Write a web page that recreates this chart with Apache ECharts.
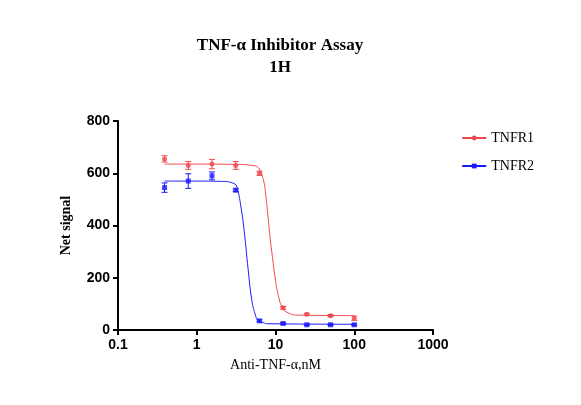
<!DOCTYPE html><html><head><meta charset="utf-8">
<script src="https://cdn.jsdelivr.net/npm/echarts@6/dist/echarts.min.js"></script></head>
<body style="margin:0"><div id="c" style="width:581px;height:405px"></div>
<script>
const conc=[0.39,0.78,1.56,3.125,6.25,12.5,25,50,100];
const tnfr1=[655,630,635,630,600,85,60,55,45];
const tnfr1Err=[12,15,18,15,8,5,4,4,8];
const tnfr2=[545,570,590,535,35,25,20,20,20];
const tnfr2Err=[18,28,15,5,4,3,3,3,3];
const fit1=[[0.39,635],[1,635],[3,634],[5,630],[6,622],[7,575],[7.5,520],[8,440],[8.5,360],[9,295],[10,190],[11,125],[12,92],[14,68],[20,57],[100,55]];
const fit2=[[0.39,570],[1,570],[2,569],[3,560],[3.3,535],[3.6,480],[4,380],[4.5,230],[5,115],[5.5,62],[6,38],[7,28],[8,24],[100,22]];
const font='Liberation Serif';
function errSeries(vals,errs,color){
 return {type:'custom',silent:true,z:1,data:conc.map((x,i)=>[x,vals[i]-errs[i],vals[i]+errs[i]]),
  renderItem:(p,api)=>{const lo=api.coord([api.value(0),api.value(1)]),hi=api.coord([api.value(0),api.value(2)]);
   const s={stroke:color,lineWidth:1};
   return {type:'group',children:[{type:'line',shape:{x1:lo[0],y1:lo[1],x2:hi[0],y2:hi[1]},style:s},
    {type:'line',shape:{x1:lo[0]-3,y1:lo[1],x2:lo[0]+3,y2:lo[1]},style:s},
    {type:'line',shape:{x1:hi[0]-3,y1:hi[1],x2:hi[0]+3,y2:hi[1]},style:s}]};}};
}
const red='#f0484f',blue='#1a1aff';
const ch=echarts.init(document.getElementById('c'));
ch.setOption({animation:false,
 title:{text:'TNF-α Inhibitor Assay\n1H',left:275,top:30,textAlign:'center',textStyle:{fontFamily:font,fontSize:17,fontWeight:'bold',lineHeight:22,color:'#000'}},
 legend:{right:42,top:126,orient:'vertical',itemGap:14,itemWidth:24,itemHeight:6,textStyle:{fontFamily:font,fontSize:14,color:'#000'},
  data:['TNFR1','TNFR2']},
 grid:{left:118,right:148,top:121,bottom:75},
 xAxis:{type:'log',logBase:10,min:0.1,max:1000,name:'Anti-TNF-α,nM',nameLocation:'middle',nameGap:28,
  nameTextStyle:{fontFamily:font,fontSize:14,color:'#000'},
  axisLine:{lineStyle:{color:'#000',width:2}},axisTick:{lineStyle:{color:'#000',width:2},length:5},
  axisLabel:{fontFamily:'Liberation Sans',fontWeight:'bold',fontSize:14,color:'#000',formatter:v=>String(v)},
  splitLine:{show:false}},
 yAxis:{type:'value',min:0,max:800,interval:200,name:'Net signal',nameLocation:'middle',nameGap:45,
  nameTextStyle:{fontFamily:font,fontSize:14,fontWeight:'bold',color:'#000'},
  axisLine:{show:true,lineStyle:{color:'#000',width:2}},axisTick:{show:true,lineStyle:{color:'#000',width:2},length:5},
  axisLabel:{fontFamily:'Liberation Sans',fontWeight:'bold',fontSize:14,color:'#000'},splitLine:{show:false}},
 series:[
  {name:'TNFR1',type:'line',data:fit1,showSymbol:false,symbol:'circle',symbolSize:5,smooth:true,lineStyle:{color:red,width:1},itemStyle:{color:red},z:2},
  {name:'TNFR2',type:'line',data:fit2,showSymbol:false,symbol:'rect',symbolSize:5,smooth:true,lineStyle:{color:blue,width:1},itemStyle:{color:blue},z:2},
  {name:'pts1',type:'scatter',data:conc.map((x,i)=>[x,tnfr1[i]]),symbol:'circle',symbolSize:5,itemStyle:{color:red},z:3},
  {name:'pts2',type:'scatter',data:conc.map((x,i)=>[x,tnfr2[i]]),symbol:'rect',symbolSize:5,itemStyle:{color:blue},z:3},
  errSeries(tnfr1,tnfr1Err,red),errSeries(tnfr2,tnfr2Err,blue)]
});
</script></body></html>
